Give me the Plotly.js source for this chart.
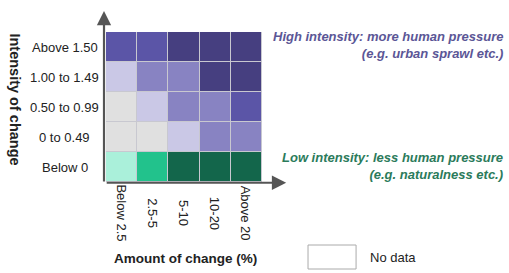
<!DOCTYPE html>
<html>
<head>
<meta charset="utf-8">
<script src="https://cdn.plot.ly/plotly-3.0.1.min.js"></script>
<style>html,body{margin:0;padding:0;background:#fff;}#chart{width:509px;height:273px;}</style>
</head>
<body>
<div id="chart"></div>
<script>
// Categories
const amountCats = ["Below 2.5", "2.5-5", "5-10", "10-20", "Above 20"];
const intensityCats = ["Below 0", "0 to 0.49", "0.50 to 0.99", "1.00 to 1.49", "Above 1.50"];
// Class colours (index = class code)
const classColors = ["#e0e0e0", "#cac8e6", "#8883c2", "#5b55a7", "#463f80", "#aaf0da", "#22c28c", "#13664b"];
// Class code per cell, rows follow intensityCats (bottom to top), columns follow amountCats
const rowBelow0 = [5, 6, 7, 7, 7];
const row0to049 = [0, 0, 1, 2, 2];
const row050to099 = [0, 1, 2, 2, 3];
const row100to149 = [1, 2, 2, 4, 4];
const rowAbove150 = [3, 3, 4, 4, 4];
const zRows = [rowBelow0, row0to049, row050to099, row100to149, rowAbove150];

const n = classColors.length;
const colorscale = [];
classColors.forEach((c, i) => {
  colorscale.push([i / n, c]);
  colorscale.push([(i + 1) / n, c]);
});

const trace = {
  type: 'heatmap',
  x: amountCats,
  y: intensityCats,
  z: zRows,
  zmin: -0.5,
  zmax: n - 0.5,
  colorscale: colorscale,
  showscale: false,
  xgap: 1,
  ygap: 1,
  hoverinfo: 'skip'
};

const font = "Liberation Sans, Arial, sans-serif";
const annotations = [];
intensityCats.forEach((c) => {
  annotations.push({xref: 'paper', yref: 'y', x: -0.263, y: c, text: c, showarrow: false,
    xanchor: 'center', yanchor: 'middle', font: {family: font, size: 13, color: '#222'}});
});
amountCats.forEach((c) => {
  annotations.push({xref: 'x', yref: 'paper', x: c, y: -0.207, text: c, showarrow: false, textangle: 90,
    xanchor: 'center', yanchor: 'middle', font: {family: font, size: 13, color: '#222'}});
});
annotations.push({xref: 'paper', yref: 'paper', x: -0.583, y: 0.55, text: 'Intensity of change', textangle: 90,
  showarrow: false, xanchor: 'center', yanchor: 'middle', font: {family: font, size: 14.5, color: '#222', weight: 'bold'}});
annotations.push({xref: 'paper', yref: 'paper', x: 0.51, y: -0.507, text: 'Amount of change (%)',
  showarrow: false, xanchor: 'center', yanchor: 'middle', font: {family: font, size: 13.5, color: '#222', weight: 'bold'}});
annotations.push({xref: 'paper', yref: 'paper', x: 2.56, y: 0.913, text: 'High intensity: more human pressure<br>(e.g. urban sprawl etc.)',
  showarrow: false, xanchor: 'right', yanchor: 'middle', align: 'right',
  font: {family: font, size: 13, color: '#5b5696', weight: 'bold', style: 'italic'}});
annotations.push({xref: 'paper', yref: 'paper', x: 2.56, y: 0.11, text: 'Low intensity: less human pressure<br>(e.g. naturalness etc.)',
  showarrow: false, xanchor: 'right', yanchor: 'middle', align: 'right',
  font: {family: font, size: 13, color: '#2b7b5b', weight: 'bold', style: 'italic'}});
annotations.push({xref: 'paper', yref: 'paper', x: 1.68, y: -0.5, text: 'No data',
  showarrow: false, xanchor: 'left', yanchor: 'middle', font: {family: font, size: 13, color: '#222'}});
// axis arrows
annotations.push({xref: 'paper', yref: 'paper', x: -0.0128, y: 1.14, ax: 0, ay: 172, text: '',
  showarrow: true, arrowhead: 2, arrowsize: 1.3, arrowwidth: 2.2, arrowcolor: '#555'});
annotations.push({xref: 'paper', yref: 'paper', x: 1.155, y: -0.005, ax: -181, ay: 0, text: '',
  showarrow: true, arrowhead: 2, arrowsize: 1.3, arrowwidth: 2.2, arrowcolor: '#555'});

const layout = {
  width: 509, height: 273,
  margin: {l: 106, r: 247, t: 32, b: 91},
  paper_bgcolor: '#fff',
  plot_bgcolor: '#c8c8d0',
  xaxis: {showticklabels: false, showgrid: false, zeroline: false, ticks: '', range: [-0.5, 4.5], fixedrange: true},
  yaxis: {showticklabels: false, showgrid: false, zeroline: false, ticks: '', range: [-0.5, 4.5], fixedrange: true},
  showlegend: false,
  annotations: annotations,
  shapes: [
    {type: 'rect', xref: 'paper', yref: 'paper', x0: 1.295, x1: 1.603, y0: -0.42, y1: -0.58,
      line: {color: '#aaa', width: 1}, fillcolor: '#fff'}
  ]
};

Plotly.newPlot('chart', [trace], layout, {displayModeBar: false, staticPlot: true});
</script>
</body>
</html>
